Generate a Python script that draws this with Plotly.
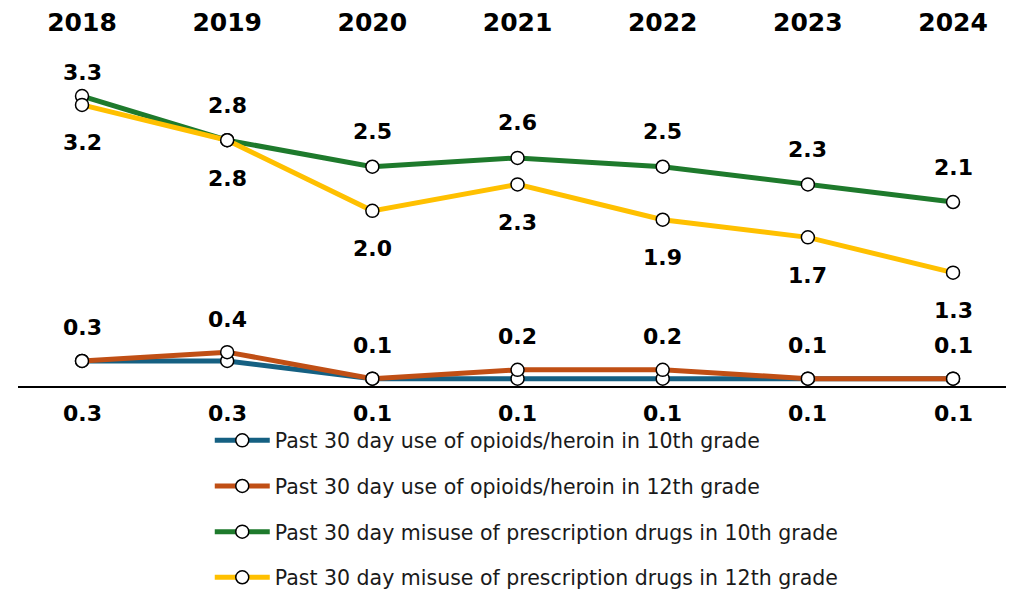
import plotly.graph_objects as go

years = ["2018", "2019", "2020", "2021", "2022", "2023", "2024"]
opioids_10 = [0.3, 0.3, 0.1, 0.1, 0.1, 0.1, 0.1]
opioids_12 = [0.3, 0.4, 0.1, 0.2, 0.2, 0.1, 0.1]
rx_10 = [3.3, 2.8, 2.5, 2.6, 2.5, 2.3, 2.1]
rx_12 = [3.2, 2.8, 2.0, 2.3, 1.9, 1.7, 1.3]

names = [
    "Past 30 day use of opioids/heroin in 10th grade",
    "Past 30 day use of opioids/heroin in 12th grade",
    "Past 30 day misuse of prescription drugs in 10th grade",
    "Past 30 day misuse of prescription drugs in 12th grade",
]
series = [opioids_10, opioids_12, rx_10, rx_12]
colors = ["#156082", "#C04F15", "#1E7A2C", "#FFC000"]

fig = go.Figure()
for i, (name, vals, col) in enumerate(zip(names, series, colors)):
    fig.add_trace(go.Scatter(
        x=years, y=vals, name=name, mode="lines+markers",
        line=dict(color=col, width=5),
        marker=dict(size=13, color="white", line=dict(color="black", width=1.5)),
        legendgroup=f"g{i}", cliponaxis=False,
    ))

FONT = "DejaVu Sans, Liberation Sans, Arial, sans-serif"
ann = []
def lab(vals, shift, fixed_zero=False, first_shift=None):
    for j, v in enumerate(vals):
        s = shift if (first_shift is None or j > 0) else first_shift
        ann.append(dict(x=j, y=(0 if fixed_zero else v), xref="x", yref="y",
                        text=f"{v:.1f}", showarrow=False, yshift=s,
                        font=dict(family=FONT, size=22, color="black", weight="bold")))

lab(rx_10, 35, first_shift=24)
lab(rx_12, -38)
lab(opioids_12, 33)
lab(opioids_10, -26, fixed_zero=True)

fig.update_layout(
    width=1014, height=590,
    margin=dict(l=10, r=0, t=42, b=158, autoexpand=False),
    plot_bgcolor="white", paper_bgcolor="white",
    showlegend=True,
    legend=dict(x=0.191, y=0.05, xanchor="left", yanchor="top",
                font=dict(family=FONT, size=20.5, color="#1a1a1a"),
                tracegroupgap=16, itemwidth=55, bgcolor="rgba(0,0,0,0)"),
    annotations=ann,
    xaxis=dict(type="category", side="top", range=[-0.441, 6.475],
               showgrid=False, showline=False, ticks="",
               tickfont=dict(family=FONT, size=25, color="black", weight="bold"),
               ticklabelstandoff=13),
    yaxis=dict(range=[-0.595, 3.822], showgrid=False, showticklabels=False,
               zeroline=True, zerolinecolor="black", zerolinewidth=2, showline=False),
)

fig.write_html("out.html")
